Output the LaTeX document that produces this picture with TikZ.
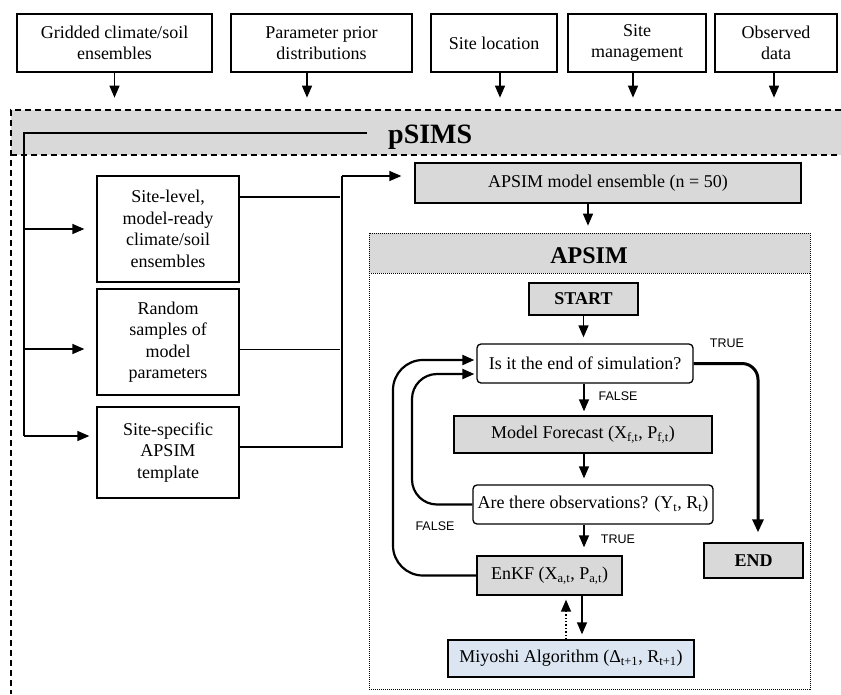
\documentclass[tikz,border=0pt]{standalone}
\usepackage{fontspec}
\setmainfont{Liberation Serif}
\newfontfamily\arialf{Liberation Sans}
\usetikzlibrary{arrows.meta}
\definecolor{boxgray}{HTML}{D9D9D9}
\definecolor{miyblue}{HTML}{DCE6F2}
\begin{document}
\begin{tikzpicture}[x=1pt,y=-1pt,
  txt/.style={font=\fontsize{18}{21.5}\selectfont},
  box/.style={draw,line width=1.3pt,inner sep=0pt,align=center,txt},
  gbox/.style={box,fill=boxgray},
  rbox/.style={box,rounded corners=4pt},
  arr/.style={line width=1.4pt,-{Triangle[length=12pt,width=10pt]}},
  looparr/.style={line width=2.2pt,-{Triangle[length=12pt,width=10pt]}},
  truearr/.style={line width=3pt,-{Triangle[length=13pt,width=11pt]}},
  dashbox/.style={line width=1.3pt,dash pattern=on 6pt off 4pt},
  dotbox/.style={line width=1pt,densely dotted},
  lbl/.style={font=\arialf\fontsize{12.5}{14}\selectfont,inner sep=0pt}
]
\useasboundingbox (0,0) rectangle (841,694);

% top input boxes
\node[box,minimum width=195pt,minimum height=58pt] (t1) at (114.5,43) {Gridded climate/soil\\ensembles};
\node[box,minimum width=181pt,minimum height=58pt] (t2) at (321.5,43) {Parameter prior\\distributions};
\node[box,minimum width=126pt,minimum height=58pt] (t3) at (494,43) {Site location};
\node[box,minimum width=138pt,minimum height=58pt] (t4) at (637,43) {Site\\management};
\node[box,minimum width=122pt,minimum height=58pt] (t5) at (776,43) {Observed\\data};
\draw[arr] (t1.south) -- ++(0,25);
\draw[arr] ([xshift=-14.5pt]t2.south) -- ++(0,25);
\draw[arr] ([xshift=6pt]t3.south) -- ++(0,25);
\draw[arr] ([xshift=-4pt]t4.south) -- ++(0,25);
\draw[arr] ([xshift=-2pt]t5.south) -- ++(0,25);

% pSIMS frame
\fill[boxgray] (11,110) rectangle (841,155);
\draw[dashbox] (841,110) -- (11,110) -- (11,694);
\draw[dashbox] (11,155) -- (841,155);
\node[font=\bfseries\fontsize{28}{30}\selectfont,anchor=base west,inner sep=0pt] (ptitle) at (388,143) {pSIMS};

% left boxes
\node[box,minimum width=142pt,minimum height=106pt] (A) at (168,229) {Site-level,\\model-ready\\climate/soil\\ensembles};
\node[box,minimum width=142pt,minimum height=106pt] (B) at (168,342) {Random\\samples of\\model\\parameters};
\node[box,minimum width=142pt,minimum height=91pt] (C) at (168,452.5) {Site-specific\\APSIM\\template};

\coordinate (ps) at (367,133);
\coordinate (pc) at (24,133);
\coordinate (pb) at (24,436);
\draw[line width=1.6pt] (ps) -- (pc) -- (pb);
\draw[arr] (pc |- A.west) -- ([xshift=-12pt]A.west);
\draw[arr] ([yshift=-7pt]pc |- B.west) -- ([xshift=-12pt,yshift=-7pt]B.west);
\draw[arr] (pb) -- ([xshift=-7pt,yshift=16.5pt]C.west);

% connectors to ensemble
\coordinate (ja) at (340,197);
\coordinate (jb) at (340,349);
\coordinate (j1) at (342,447);
\coordinate (j2) at (342,176);
\draw[line width=1.3pt] ([yshift=32pt]A.east) -- (ja);
\draw[line width=1pt] ([yshift=-7pt]B.east) -- (jb);
\draw[line width=1.3pt] ([yshift=5.5pt]C.east) -- (j1) -- (j2);

\node[gbox,minimum width=386pt,minimum height=40pt] (ens) at (608,183) {APSIM model ensemble (n = 50)};
\draw[arr] (j2) -- ([xshift=-13pt,yshift=7pt]ens.west);

% APSIM frame
\fill[boxgray] (369,233) rectangle (810,273);
\draw[dotbox] (369,233) rectangle (810,689);
\draw[dotbox] (369,273) -- (810,273);
\node[font=\bfseries\fontsize{24}{26}\selectfont,anchor=base,inner sep=0pt] (atitle) at (589,263) {APSIM};
\draw[arr] ([xshift=-20pt]ens.south) -- ([xshift=-20pt,yshift=-22pt]ens.south);

% flow
\node[gbox,font=\bfseries\fontsize{18}{21}\selectfont,minimum width=109pt,minimum height=32pt] (start) at (583.5,299) {START};
\node[rbox,minimum width=216pt,minimum height=39pt] (is) at (585,363.5) {Is it the end of simulation?};
\node[gbox,minimum width=258pt,minimum height=37pt] (mf) at (583,434.5) {Model Forecast (X\textsubscript{f,t}, P\textsubscript{f,t})};
\node[rbox,minimum width=240pt,minimum height=39pt] (obs) at (593,504.5) {Are there observations? (Y\textsubscript{t}, R\textsubscript{t})};
\node[gbox,minimum width=145pt,minimum height=39pt] (enkf) at (549.5,575.5) {EnKF (X\textsubscript{a,t}, P\textsubscript{a,t})};
\node[box,fill=miyblue,minimum width=246pt,minimum height=37pt] (miy) at (571,658.5) {Miyoshi Algorithm (Δ\textsubscript{t+1}, R\textsubscript{t+1})};
\node[gbox,font=\bfseries\fontsize{18}{21}\selectfont,minimum width=99pt,minimum height=35pt] (end) at (753.5,560.5) {END};

\draw[arr] (start.south) -- ([xshift=-1.5pt,yshift=6pt]is.north);
\draw[arr] ([xshift=-1pt]is.south) -- ([xshift=1pt,yshift=4pt]mf.north);
\draw[arr] ([xshift=1pt]mf.south) -- ([xshift=-9pt,yshift=6pt]obs.north);
\draw[arr] ([xshift=-9pt]obs.south) -- ([xshift=34.5pt,yshift=8pt]enkf.north);
\draw[arr] ([xshift=32.5pt]enkf.south) -- ([xshift=11pt,yshift=5pt]miy.north);
\draw[arr,dotted] ([xshift=-5pt]miy.north) -- ([xshift=16.5pt,yshift=-4pt]enkf.south);

\node[lbl] (lfalse1) at (618,396) {FALSE};
\node[lbl] (ltrue1) at (618,539) {TRUE};
\node[lbl] (ltrue2) at (727,343) {TRUE};
\node[lbl] (lfalse2) at (435,526) {FALSE};

% TRUE to END
\coordinate (tc) at (758,363.5);
\draw[truearr,rounded corners=16pt] (is.east) -- (tc) -- ([xshift=4.5pt,yshift=10pt]end.north);

% loops back
\coordinate (o1) at (393,575.5);
\coordinate (o2) at (393,360);
\draw[looparr,rounded corners=30pt] (enkf.west) -- (o1) -- (o2) -- ([xshift=-2pt,yshift=3.5pt]is.west);
\coordinate (i1) at (412,504.5);
\coordinate (i2) at (412,374);
\draw[looparr,rounded corners=25pt] (obs.west) -- (i1) -- (i2) -- ([xshift=-2pt,yshift=-10.5pt]is.west);
\end{tikzpicture}
\end{document}
